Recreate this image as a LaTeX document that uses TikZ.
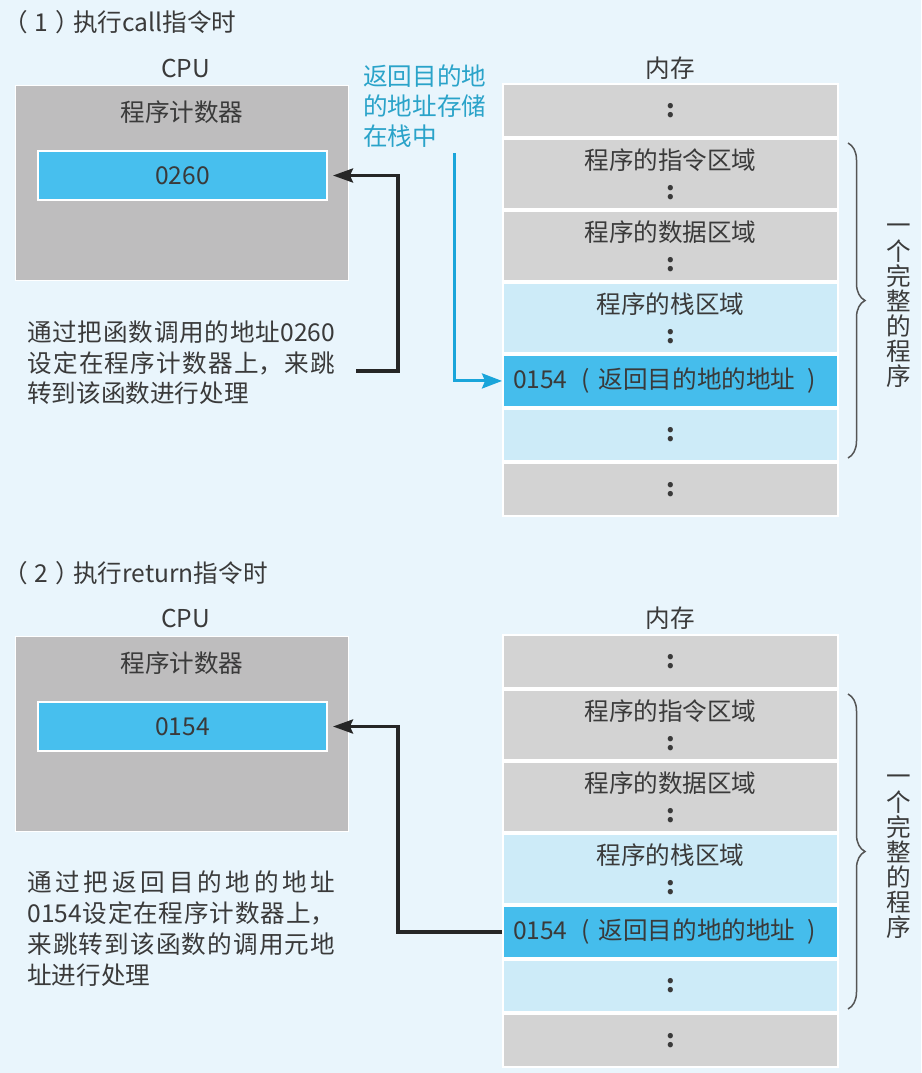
\documentclass[tikz,border=0pt]{standalone}
\usepackage{fontspec}
\setmainfont{Noto Sans CJK SC}
\XeTeXlinebreaklocale "zh"
\XeTeXlinebreakskip=0pt plus 4pt
\usetikzlibrary{arrows.meta,positioning,decorations.pathreplacing}
\definecolor{paper}{HTML}{E9F5FC}
\definecolor{ink}{HTML}{3A3A3A}
\definecolor{cpugray}{HTML}{BEBDBE}
\definecolor{memgray}{HTML}{D3D3D3}
\definecolor{stacklight}{HTML}{CDEBF8}
\definecolor{regblue}{HTML}{47BFEE}
\definecolor{retblue}{HTML}{45BDEC}
\definecolor{noteblue}{HTML}{2AA3C9}
\definecolor{arrowblue}{HTML}{1AA5DA}
\definecolor{bracegray}{HTML}{555555}
\newcommand{\dts}{\textbf{:}}
\newcommand{\retaddr}{\mbox{0154\hspace{8pt}(\hspace{5pt}返回目的地的地址\hspace{7pt})}}
\tikzset{
  >={Stealth[length=4mm,width=2.8mm,inset=0.6mm]},
  % cpu
  cpu/.style={fill=cpugray,draw=white,line width=0.5pt,minimum width=6.66cm,
              minimum height=3.9cm},
  pcreg/.style={fill=regblue,draw=white,line width=0.04cm,inner sep=0pt,
                minimum width=5.78cm,minimum height=0.98cm},
  ttl/.style={anchor=west,inner sep=0pt},
  expl/.style={anchor=north west,inner sep=0pt,text width=6.16cm,align=justify,
               font=\fontsize{14}{17.6}\selectfont},
  hint/.style={anchor=north west,inner sep=0pt,align=left,text=noteblue,
               font=\fontsize{14}{17.2}\selectfont},
  % speicher
  cell/.style={draw=white,line width=0.04cm,minimum width=6.7cm,inner sep=0pt,
               align=center},
  lo/.style={minimum height=1.06cm},
  hi/.style={minimum height=1.4cm},
  mid/.style={minimum height=1.04cm},
  grau/.style={fill=memgray},
  hell/.style={fill=stacklight},
  voll/.style={fill=retblue,text width=6.3cm,align=left},
  brc/.style={decorate,decoration={brace,amplitude=0.34cm},draw=bracegray,
              line width=0.03cm},
  vtext/.style={align=center,inner sep=0pt,font=\fontsize{14}{14.3}\selectfont},
  % pfeile
  blk/.style={->,draw=black!85,line width=0.065cm,shorten >=0.1cm},
  cyn/.style={-{Stealth[length=4mm,width=3mm,inset=0.6mm]},draw=arrowblue,
              line width=0.06cm},
}
\begin{document}
\begin{tikzpicture}[x=0.02cm,y=-0.02cm,font=\fontsize{14}{17}\selectfont,text=ink]
  \fill[paper] (0,0) rectangle (921,1073);
  \useasboundingbox (0,0) rectangle (921,1073);
  % (1) call
  \node[ttl] (t1) at (3,22) {（\hspace{4pt}1\hspace{4pt}）\hspace{-4pt}执行call指令时};
  \node (cpul1) at (185.5,68) {CPU};   \node (meml1) at (670.5,68) {内存};
  \node[cpu] (cpu1) at (181.5,182.5) {};
  \node (pcl1) at (182,112) {程序计数器};
  \node[pcreg] (pc1) at (182.5,175.5) {0260};
  \node[expl] (x1) at (27,320) {通过把函数调用的地址0260\linebreak 设定在程序计数器上，来跳\linebreak 转到该函数进行处理};
  \node[hint] (h1) at (363,64) {返回目的地\\的地址存储\\在栈中};
  \node[cell,grau,lo] (ma1) at (670.5,110.5) {\dts};
  \node[cell,grau,hi,below=0pt of ma1] (ma2) {程序的指令区域\\\dts};
  \node[cell,grau,hi,below=0pt of ma2] (ma3) {程序的数据区域\\\dts};
  \node[cell,hell,hi,below=0pt of ma3] (ma4) {程序的栈区域\\\dts};
  \node[cell,voll,mid,below=0pt of ma4] (ma5) {\retaddr};
  \node[cell,hell,mid,below=0pt of ma5] (ma6) {\dts};
  \node[cell,grau,lo,below=0pt of ma6] (ma7) {\dts};
  \coordinate (ba1) at (848,143);  \coordinate (ba2) at (848,458);
  \draw[brc] (ba1) -- (ba2);
  \node[vtext] (prog1) at (899,306) {一\\个\\完\\整\\的\\程\\序};
  \coordinate (a1) at (356,371);   \coordinate (s1) at (454,153);
  \draw[blk] (a1) -- ++(42,0) |- (pc1.east);
  \draw[cyn] (s1) |- (ma5.west);
  % (2) return
  \node[ttl] (t2) at (3,573) {（\hspace{4pt}2\hspace{4pt}）\hspace{-4pt}执行return指令时};
  \node (cpul2) at (185.5,618) {CPU};  \node (meml2) at (670.5,618) {内存};
  \node[cpu] (cpu2) at (181.5,733.5) {};
  \node (pcl2) at (182,663) {程序计数器};
  \node[pcreg] (pc2) at (182.5,726.5) {0154};
  \node[expl] (x2) at (27,870.5) {通过把返回目的地的地址\linebreak 0154设定在程序计数器上，\linebreak 来跳转到该函数的调用元地\linebreak 址进行处理};
  \node[cell,grau,lo] (mb1) at (670.5,661.5) {\dts};
  \node[cell,grau,hi,below=0pt of mb1] (mb2) {程序的指令区域\\\dts};
  \node[cell,grau,hi,below=0pt of mb2] (mb3) {程序的数据区域\\\dts};
  \node[cell,hell,hi,below=0pt of mb3] (mb4) {程序的栈区域\\\dts};
  \node[cell,voll,mid,below=0pt of mb4] (mb5) {\retaddr};
  \node[cell,hell,mid,below=0pt of mb5] (mb6) {\dts};
  \node[cell,grau,lo,below=0pt of mb6] (mb7) {\dts};
  \coordinate (bb1) at (848,694);  \coordinate (bb2) at (848,1009);
  \draw[brc] (bb1) -- (bb2);
  \node[vtext] (prog2) at (899,857) {一\\个\\完\\整\\的\\程\\序};
  \draw[blk] (mb5.west) -- ++(-104,0) |- (pc2.east);
\end{tikzpicture}
\end{document}
